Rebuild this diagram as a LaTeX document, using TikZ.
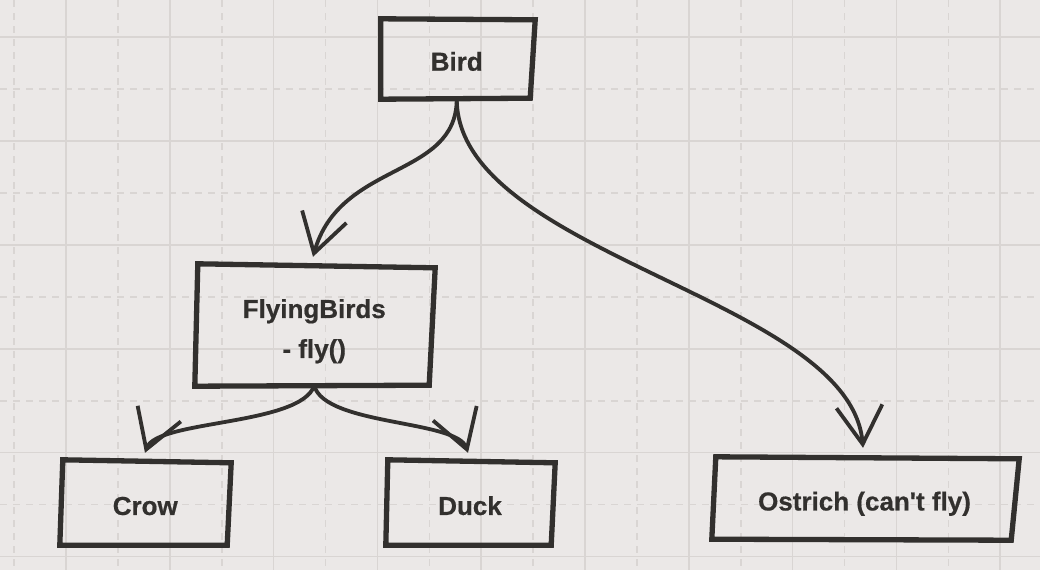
\documentclass[tikz,border=0pt]{standalone}
\usepackage{fontspec}
\setmainfont{Liberation Sans}[Ligatures=TeXOff, BoldFeatures={FakeBold=0.6}]
\usetikzlibrary{arrows.meta}
\definecolor{bg}{RGB}{235,232,231}
\definecolor{gridc}{RGB}{217,213,211}
\definecolor{ink}{RGB}{50,48,46}
\begin{document}
\begin{tikzpicture}[x=1pt,y=-1pt,
  boxn/.style={draw=none, inner sep=0pt, font=\fontsize{26}{40}\selectfont\bfseries, text=ink},
  oneline/.style={text height=23.4pt, text depth=0pt},
  boxline/.style={draw=ink, line width=5.3pt, line join=miter},
  conn/.style={draw=ink, line width=3.8pt, line cap=round, -{Straight Barb[length=38pt,width=46pt]}},
  gsolid/.style={draw=gridc, line width=1.6pt},
  gdash/.style={draw=gridc, line width=1.6pt, dash pattern=on 7pt off 6pt}]
\useasboundingbox (0,0) rectangle (1040,570);
\fill[bg] (0,0) rectangle (1040,570);
% grid
\foreach \i in {0,...,9} {
  \draw[gsolid] ({66+103.8*\i},0) -- ({66+103.8*\i},570);
  \draw[gdash] ({14.1+103.8*\i},0) -- ({14.1+103.8*\i},570);
}
\foreach \j in {0,...,5} {
  \draw[gsolid] (0,{37+103.9*\j}) -- (1040,{37+103.9*\j});
}
\foreach \j in {0,...,4} {
  \draw[gdash] (0,{89+103.9*\j}) -- (1040,{89+103.9*\j});
}
% nodes
\node[boxn, oneline, minimum width=151.5pt, minimum height=79pt] (bird) at (456.75,59) {Bird};
\node[boxn, align=center, minimum width=235.5pt, minimum height=119.5pt] (fb) at (314.25,325.75) {\rule{0pt}{29.8pt}FlyingBirds\\- fly()};
\node[boxn, oneline, minimum width=167.5pt, minimum height=83.5pt] (crow) at (145.25,503.25) {Crow};
\node[boxn, oneline, minimum width=166pt, minimum height=83.5pt] (duck) at (470,503.25) {Duck};
\node[boxn, oneline, minimum width=301pt, minimum height=81.5pt] (ostrich) at (864.5,498.75) {Ostrich (can't fly)};
% hand-drawn box outlines
\draw[boxline] ([shift={(0,-0.5)}]bird.north west) -- ([shift={(2.5,0.5)}]bird.north east) -- ([shift={(-2.5,-0.5)}]bird.south east) -- ([shift={(0,0.5)}]bird.south west) -- cycle;
\draw[boxline] ([shift={(1.5,-2)}]fb.north west) -- ([shift={(3,2)}]fb.north east) -- ([shift={(-3,-0.5)}]fb.south east) -- ([shift={(-1.5,0.5)}]fb.south west) -- cycle;
\draw[boxline] ([shift={(1.5,-1.5)}]crow.north west) -- ([shift={(2,1.5)}]crow.north east) -- ([shift={(-2,0)}]crow.south east) -- ([shift={(-1.5,0)}]crow.south west) -- cycle;
\draw[boxline] ([shift={(1,-1.5)}]duck.north west) -- ([shift={(2,1.5)}]duck.north east) -- ([shift={(-2,0)}]duck.south east) -- ([shift={(-1,0)}]duck.south west) -- cycle;
\draw[boxline] ([shift={(2,-1)}]ostrich.north west) -- ([shift={(4,1)}]ostrich.north east) -- ([shift={(-4,0.5)}]ostrich.south east) -- ([shift={(-2,-0.5)}]ostrich.south west) -- cycle;
% connectors
\draw[conn] (bird.south) .. controls +(0,80) and +(27,-96) .. ([shift={(-1.25,-9)}]fb.north);
\draw[conn] (bird.south) .. controls +(0,156) and +(-13,-150) .. ([shift={(-1.5,-10)}]ostrich.north);
\draw[conn] (fb.south) .. controls +(-14,40) and +(12,-33) .. ([shift={(-0.25,-8.5)}]crow.north);
\draw[conn] (fb.south) .. controls +(11,40) and +(-11,-33) .. ([shift={(-2,-8.5)}]duck.north);
\end{tikzpicture}
\end{document}
